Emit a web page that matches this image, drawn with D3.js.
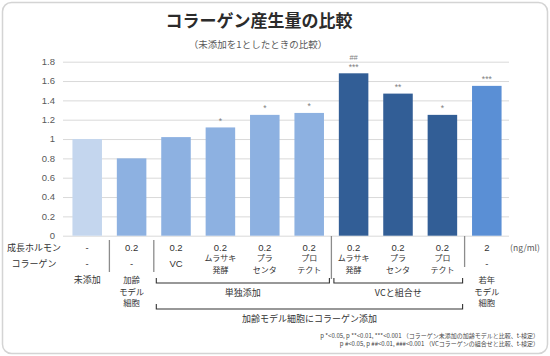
<!DOCTYPE html>
<html><head><meta charset="utf-8">
<script src="https://cdn.jsdelivr.net/npm/d3@7"></script>
<style>
html,body{margin:0;padding:0;background:#fff;}
svg{display:block;font-family:"Noto Sans CJK JP","Noto Sans",sans-serif;}
</style></head>
<body>
<svg id="chart" width="550" height="356"></svg>
<script>
const categories = ["未添加","加齢モデル細胞","VC","ムラサキ発酵","プラセンタ","プロテクト","VC+ムラサキ発酵","VC+プラセンタ","VC+プロテクト","若年モデル細胞"];
const values = [1.00, 0.80, 1.02, 1.12, 1.25, 1.27, 1.68, 1.47, 1.25, 1.55];
const colorGroups = ["control","aged","aged","aged","aged","aged","vc","vc","vc","young"];
const hormoneLabels = ["-","0.2","0.2","0.2","0.2","0.2","0.2","0.2","0.2","2"];
const collagenLabels = [["-"],["-"],["VC"],["ムラサキ","発酵"],["プラ","センタ"],["プロ","テクト"],["ムラサキ","発酵"],["プラ","センタ"],["プロ","テクト"],["-"]];
const bottomLabels = [["未添加"],["加齢","モデル","細胞"],[],[],[],[],[],[],[],["若年","モデル","細胞"]];
const sigLabels = ["","","","*","*","*","***","**","*","***"];
const hashLabels = ["","","","","","","##","","",""];
const yTicks = [0,0.2,0.4,0.6,0.8,1,1.2,1.4,1.6,1.8];
const rowLabels = ["成長ホルモン","コラーゲン"];
const unitLabel = "(ng/ml)";
const brackets = [
  {from:2, to:5, label:"単独添加", level:0},
  {from:6, to:8, label:"VCと組合せ", level:0},
  {from:2, to:8, label:"加齢モデル細胞にコラーゲン添加", level:1}
];
const separators = [1,2,6,9];
const title = "コラーゲン産生量の比較";
const subtitle = "（未添加を1としたときの比較）";
const footnotes = [
  "p *<0.05, p **<0.01, ***<0.001 （コラーゲン未添加の加齢モデルと比較、t-検定）",
  "p #<0.05, p ##<0.01, ###<0.001 （VCコラーゲンの組合せと比較、t-検定）"
];
const palette = {control:"#c4d6ee", aged:"#8db1e1", vc:"#325e96", young:"#5a8fd5"};

const LATIN = "\"Liberation Sans\",Arial,sans-serif";
const svg = d3.select("#chart");
const W = 550, H = 356;

svg.append("rect").attr("x",2.5).attr("y",2.5).attr("width",W-5).attr("height",H-5)
  .attr("rx",9).attr("fill","#fff").attr("stroke","#d4d4d4").attr("stroke-width",1.5);

const x = d3.scaleBand().domain(categories).range([65,509]).paddingInner(0.335).paddingOuter(0.1675);
const y = d3.scaleLinear().domain([0,1.8]).range([235.7,61.7]);
const step = x.step();
const boundary = i => x.range()[0] + i*step;

svg.append("text").attr("x",259).attr("y",27).attr("text-anchor","middle")
  .attr("font-size",17).attr("font-weight","bold").attr("fill","#2b2b2b").text(title);
svg.append("text").attr("x",258).attr("y",48).attr("text-anchor","middle")
  .attr("font-size",9.5).attr("fill","#595959").text(subtitle);

// gridlines + y labels
const gAxis = svg.append("g").attr("transform","translate(63,0)");
gAxis.call(d3.axisLeft(y).tickValues(yTicks).tickSize(-446).tickFormat(d3.format("~g")).tickPadding(8));
gAxis.select(".domain").remove();
gAxis.selectAll(".tick line").attr("stroke","#d9d9d9").attr("stroke-width",1);
gAxis.selectAll(".tick text").attr("fill","#595959").attr("font-size",9.5).attr("dy","0.3em")
  .attr("font-family",LATIN);

// bars
svg.append("g").selectAll("rect").data(categories).join("rect")
  .attr("x",d=>x(d)).attr("width",x.bandwidth())
  .attr("y",(d,i)=>y(values[i])).attr("height",(d,i)=>y(0)-y(values[i]))
  .attr("fill",(d,i)=>palette[colorGroups[i]]);

const tc = "#333", tf = 9;

// significance markers
svg.append("g").selectAll("text").data(categories).join("text")
  .attr("x",d=>x(d)+x.bandwidth()/2).attr("y",(d,i)=>y(values[i])-3.5)
  .attr("text-anchor","middle").attr("font-size",8.5).attr("font-family",LATIN).attr("fill","#7f7f7f")
  .text((d,i)=>sigLabels[i]);
svg.append("g").selectAll("text").data(categories).join("text")
  .attr("x",d=>x(d)+x.bandwidth()/2).attr("y",(d,i)=>y(values[i])-13)
  .attr("text-anchor","middle").attr("font-size",7.5).attr("font-family",LATIN).attr("fill","#7f7f7f")
  .text((d,i)=>hashLabels[i]);

// table
const rowY = [250.6, 266.5];
rowLabels.forEach((r,i)=>{
  svg.append("text").attr("x",34).attr("y",rowY[i]+0.3).attr("text-anchor","middle")
    .attr("font-size",tf).attr("fill",tc).text(r);
});
svg.append("g").selectAll("text").data(categories).join("text")
  .attr("x",d=>x(d)+x.bandwidth()/2).attr("y",rowY[0]).attr("text-anchor","middle")
  .attr("font-size",9.5).attr("font-family",LATIN).attr("fill",tc).text((d,i)=>hormoneLabels[i]);

categories.forEach((c,i)=>{
  const cx = x(c)+x.bandwidth()/2;
  const lines = collagenLabels[i];
  if(lines.length===1){
    svg.append("text").attr("x",cx).attr("y",rowY[1]).attr("text-anchor","middle")
      .attr("font-size",9.5).attr("font-family",LATIN).attr("fill",tc).text(lines[0]);
  } else {
    lines.forEach((l,j)=>{
      svg.append("text").attr("x",cx).attr("y",261.4+j*11.6).attr("text-anchor","middle")
        .attr("font-size",8).attr("fill",tc).text(l);
    });
  }
  bottomLabels[i].forEach((l,j)=>{
    svg.append("text").attr("x",cx).attr("y",283.2+j*11.6).attr("text-anchor","middle")
      .attr("font-size",j===0&&bottomLabels[i].length===1?9:8.3).attr("fill",tc).text(l);
  });
});
svg.append("text").attr("x",525).attr("y",rowY[0]).attr("text-anchor","middle")
  .attr("font-size",8.5).attr("fill","#595959").text(unitLabel);

// separators
const sepSpec = {1:[240,272],2:[240,272],6:[236,279],9:[236,267]};
separators.forEach(i=>{
  const bx = boundary(i);
  svg.append("line").attr("x1",bx).attr("x2",bx).attr("y1",sepSpec[i][0]).attr("y2",sepSpec[i][1])
    .attr("stroke","#8c8c8c").attr("stroke-width",1.3);
});

// brackets
brackets.forEach(b=>{
  const x0 = boundary(b.from)+2.5, x1 = boundary(b.to+1)-2;
  const by = b.level===0 ? 283 : 309;
  svg.append("path").attr("d",`M${x0},${by-5}V${by}H${x1}V${by-5}`)
    .attr("fill","none").attr("stroke","#333").attr("stroke-width",1.1);
  svg.append("text").attr("x",(x0+x1)/2).attr("y",by+12.5).attr("text-anchor","middle")
    .attr("font-size",tf).attr("fill",tc).text(b.label);
});

// footnotes
footnotes.forEach((f,i)=>{
  svg.append("text").attr("x",539).attr("y",337.6+i*8.8).attr("text-anchor","end")
    .attr("font-size",6).attr("fill","#444").text(f);
});
</script>
</body></html>
